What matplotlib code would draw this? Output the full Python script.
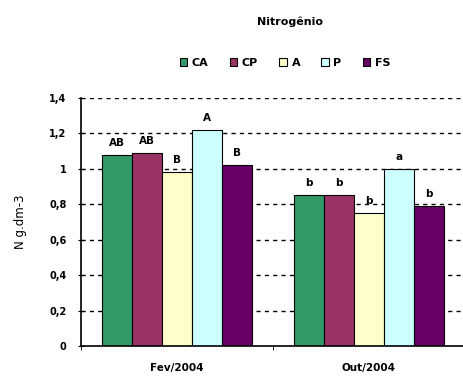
import numpy as np
import matplotlib
matplotlib.use('Agg')
from matplotlib import pyplot as plt
from matplotlib.patches import Patch

# chart data
periods = ['Fev/2004', 'Out/2004']
series = ['CA', 'CP', 'A', 'P', 'FS']
values = {
    'CA': [1.08, 0.85],
    'CP': [1.09, 0.85],
    'A': [0.98, 0.75],
    'P': [1.22, 1.00],
    'FS': [1.02, 0.79],
}
letters = {
    'CA': ['AB', 'b'],
    'CP': ['AB', 'b'],
    'A': ['B', 'b'],
    'P': ['A', 'a'],
    'FS': ['B', 'b'],
}
colors = ['#339966', '#993366', '#FFFFCC', '#CCFFFF', '#660066']
yticks = [0, 0.2, 0.4, 0.6, 0.8, 1.0, 1.2, 1.4]
yticklabels = ['0', '0,2', '0,4', '0,6', '0,8', '1', '1,2', '1,4']

plt.rcParams['font.family'] = ['DejaVu Sans']
plt.rcParams['font.weight'] = 'bold'

fig = plt.figure(figsize=(4.63, 3.81), dpi=100)
ax = fig.add_axes([81 / 463, 1 - 346 / 381, 384 / 463, 248 / 381])

# dashed gridlines behind the bars
for y in yticks[1:]:
    ax.axhline(y, color='black', lw=1.0, ls=(0, (3, 3)), zorder=0)

w = 0.156
centers = np.arange(len(periods)) + 0.5
for i, s in enumerate(series):
    xs = centers + (i - 2) * w
    ax.bar(xs, values[s], width=w, color=colors[i], edgecolor='black', lw=0.8, zorder=2)
    for x, v, t in zip(xs, values[s], letters[s]):
        ax.text(x, v + 0.04, t, ha='center', va='bottom', fontsize=7.5, zorder=3)

ax.set_xlim(0, 2)
ax.set_ylim(0, 1.4)
ax.set_yticks(yticks)
ax.set_yticklabels(yticklabels, fontsize=7)
ax.set_xticks(centers)
ax.set_xticklabels(periods, fontsize=7.5)
ax.set_xticks([0, 1, 2], minor=True)
ax.tick_params(axis='x', which='major', length=0, pad=12)
ax.tick_params(axis='x', which='minor', length=3, direction='out')
ax.tick_params(axis='y', length=5, direction='inout', pad=8)
ax.spines['top'].set_visible(False)
ax.spines['right'].set_visible(False)
ax.spines['left'].set_linewidth(1.2)
ax.spines['bottom'].set_linewidth(1.2)
ax.set_ylabel('N g.dm-3', fontsize=8.5, labelpad=16)

fig.text(290 / 463, 1 - 22 / 381, 'Nitrogênio', ha='center', va='center', fontsize=8)

handles = [Patch(facecolor=c, edgecolor='black', lw=0.8) for c in colors]
fig.legend(handles, series, loc='center', bbox_to_anchor=(285 / 463, 1 - 63 / 381),
           ncol=5, frameon=False, fontsize=8, handlelength=0.7, handleheight=0.7,
           handletextpad=0.4, columnspacing=1.9)

fig.savefig('out.png', dpi=100)
